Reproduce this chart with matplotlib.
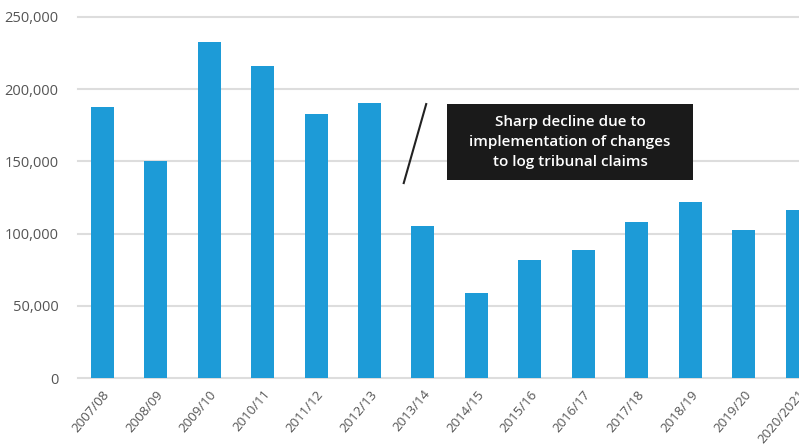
import matplotlib
matplotlib.use("Agg")
import matplotlib.pyplot as plt
from matplotlib.patches import Rectangle

years = ["2007/08", "2008/09", "2009/10", "2010/11", "2011/12", "2012/13", "2013/14",
         "2014/15", "2015/16", "2016/17", "2017/18", "2018/19", "2019/20", "2020/2021"]
claims = [188000, 150300, 232700, 216300, 182500, 190300, 105500,
          59000, 81700, 88300, 108000, 122000, 102500, 116500]
yticks = [0, 50000, 100000, 150000, 200000, 250000]
note = "Sharp decline due to\nimplementation of changes\nto log tribunal claims"

plt.rcParams['font.family'] = ['Open Sans', 'DejaVu Sans']

fig = plt.figure(figsize=(7.99, 4.46), dpi=100)
ax = fig.add_axes([78/799, 68/446, 1 - 78/799, (378-17)/446])

x = list(range(len(years)))
ax.bar(x, claims, width=0.43, color='#1d9bd7', zorder=3)

ax.set_ylim(0, 250000)
ax.set_xlim(-0.45, 13.03)
ax.set_yticks(yticks)
ax.set_yticklabels([f"{v:,}" for v in yticks], color='#555555', fontsize=10.5)
ax.set_xticks(x)
ax.set_xticklabels(years, rotation=50, ha='right', rotation_mode='anchor',
                   color='#555555', fontsize=9.5)
ax.tick_params(axis='both', length=0, pad=14)
ax.tick_params(axis='x', pad=7)
for s in ax.spines.values():
    s.set_visible(False)
for v in yticks:
    ax.axhline(v, color='#dddddd', lw=1.5, zorder=1, clip_on=False)

# annotation
ax.add_patch(Rectangle((6.45, 137000), 4.6, 52700, facecolor='#1a1a1a',
                       edgecolor='none', zorder=5))
ax.text(8.75, 163300, note, ha='center', va='center', color='white',
        fontsize=11, fontweight='semibold', linespacing=1.55, zorder=6)
ax.plot([6.06, 5.64], [189700, 135000], color='#222222', lw=1.5, zorder=6)

fig.savefig("out.png", dpi=100)
